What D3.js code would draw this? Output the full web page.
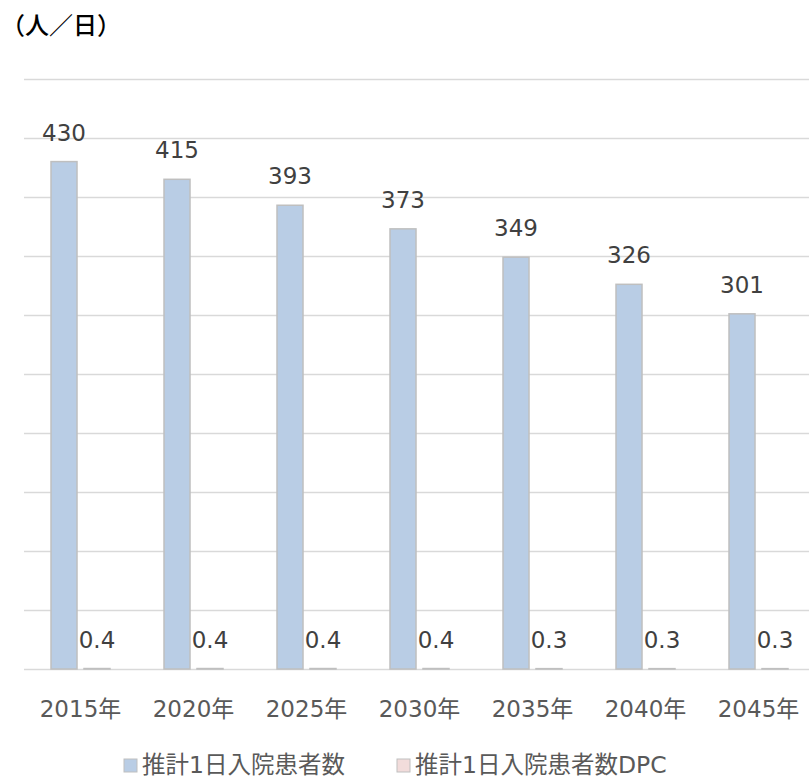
<!DOCTYPE html>
<html>
<head>
<meta charset="utf-8">
<script src="https://cdn.jsdelivr.net/npm/d3@7"></script>
<style>
  html, body { margin: 0; padding: 0; background: #fff; }
  svg { display: block; }
  text { font-family: "DejaVu Sans", "Noto Sans CJK JP", sans-serif; }
</style>
</head>
<body>
<svg id="chart" width="809" height="778"></svg>
<script>
// Projected daily inpatients per year
const years = ["2015年", "2020年", "2025年", "2030年", "2035年", "2040年", "2045年"];
const inpatients = [430, 415, 393, 373, 349, 326, 301];
const inpatientsDPC = [0.4, 0.4, 0.4, 0.4, 0.3, 0.3, 0.3];
const seriesNames = ["推計1日入院患者数", "推計1日入院患者数DPC"];
const yTicks = [0, 50, 100, 150, 200, 250, 300, 350, 400, 450, 500];
const unitLabel = "（人／日）";

const colors = { fill: ["#b9cde5", "#f2dcdb"], stroke: "#bfbfbf" };

const svg = d3.select("#chart");
const plotLeft = 24, plotRight = 815, plotTop = 79, plotBottom = 669;

const x0 = d3.scaleBand().domain(years).range([plotLeft, plotRight])
  .paddingInner(0.478).paddingOuter(0.239);
const x1 = d3.scaleBand().domain(seriesNames).range([0, x0.bandwidth()])
  .paddingInner(0.212).paddingOuter(0);
const y = d3.scaleLinear().domain([0, 500]).range([plotBottom, plotTop]);

// horizontal gridlines, no tick labels
const grid = d3.axisLeft(y).tickValues(yTicks).tickSize(-(809 - plotLeft)).tickFormat("");
svg.append("g").attr("transform", `translate(${plotLeft},0)`).call(grid)
  .call(g => g.select(".domain").remove())
  .call(g => g.selectAll("line").attr("stroke", "#d9d9d9").attr("stroke-width", 1.5));

const rows = years.map((yr, i) => ({ year: yr, values: [inpatients[i], inpatientsDPC[i]] }));

const groups = svg.append("g").selectAll("g").data(rows).join("g")
  .attr("transform", d => `translate(${x0(d.year)},0)`);

groups.selectAll("rect")
  .data(d => d.values.map((v, k) => ({ v, k })))
  .join("rect")
  .attr("x", d => x1(seriesNames[d.k]))
  .attr("width", x1.bandwidth())
  .attr("y", d => y(d.v))
  .attr("height", d => y(0) - y(d.v))
  .attr("fill", d => colors.fill[d.k])
  .attr("stroke", colors.stroke)
  .attr("stroke-width", 1.5);

groups.selectAll("text.val")
  .data(d => d.values.map((v, k) => ({ v, k })))
  .join("text")
  .attr("class", "val")
  .attr("x", d => x1(seriesNames[d.k]) + x1.bandwidth() / 2)
  .attr("y", d => y(d.v) - 21)
  .attr("text-anchor", "middle")
  .attr("font-size", 23)
  .attr("fill", "#404040")
  .text(d => d.v);

// category axis
const xAxis = d3.axisBottom(x0).tickSize(0).tickPadding(0);
svg.append("g").attr("transform", `translate(0,${plotBottom})`).call(xAxis)
  .call(g => g.select(".domain").remove())
  .call(g => g.selectAll("text")
    .attr("dy", null).attr("y", 48)
    .attr("font-size", 23)
    .attr("font-family", "\"DejaVu Sans\", \"Noto Sans CJK JP\", sans-serif")
    .attr("fill", "#595959"));

// unit label
svg.append("text").attr("x", 1).attr("y", 34)
  .attr("font-size", 24).attr("font-weight", 500).attr("fill", "#000")
  .attr("font-family", "\"Noto Sans CJK JP\", sans-serif")
  .text(unitLabel);

// legend
const legendX = [124, 397];
const legend = svg.append("g").selectAll("g").data(seriesNames).join("g")
  .attr("transform", (d, i) => `translate(${legendX[i]},759)`);
legend.append("rect").attr("width", 13).attr("height", 13)
  .attr("fill", (d, i) => colors.fill[i]).attr("stroke", colors.stroke).attr("stroke-width", 1);
legend.append("text").attr("x", 18).attr("y", 14)
  .attr("font-size", 23.5).attr("fill", "#595959")
  .text(d => d);
</script>
</body>
</html>
